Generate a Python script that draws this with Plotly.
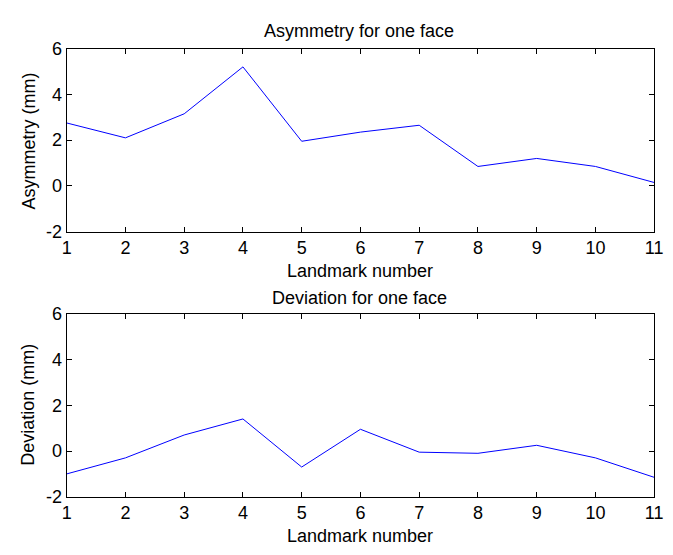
import plotly.graph_objects as go

landmarks = list(range(1, 12))
asymmetry = [2.75, 2.1, 3.15, 5.2, 1.95, 2.35, 2.65, 0.85, 1.2, 0.85, 0.15]
deviation = [-1.0, -0.3, 0.7, 1.4, -0.7, 0.95, -0.05, -0.1, 0.25, -0.3, -1.15]
y_ticks = [-2, 0, 2, 4, 6]
y_tick_labels = ["-2", "0", "2", "4", "6"]
x_ticks = landmarks

W, H = 673, 555
FONT = dict(family="Liberation Sans, Arial, sans-serif", size=18, color="black")

fig = go.Figure()
fig.add_trace(go.Scatter(x=landmarks, y=asymmetry, mode="lines",
                         line=dict(color="#0000ff", width=1), xaxis="x", yaxis="y"))
fig.add_trace(go.Scatter(x=landmarks, y=deviation, mode="lines",
                         line=dict(color="#0000ff", width=1), xaxis="x2", yaxis="y2"))

x0, x1 = 63 / W, 663 / W
top_dom = [1 - 230 / H, 1 - 40 / H]
bot_dom = [1 - 505 / H, 1 - 315 / H]

axis_common = dict(showline=True, linecolor="black", linewidth=1, mirror="ticks",
                   ticks="inside", ticklen=5, tickcolor="black", tickwidth=1,
                   showgrid=False, zeroline=False, tickfont=FONT)

fig.update_layout(
    width=W, height=H, margin=dict(l=0, r=0, t=0, b=0),
    paper_bgcolor="white", plot_bgcolor="white", showlegend=False,
    font=FONT,
    xaxis=dict(domain=[x0, x1], range=[1, 11], tickvals=x_ticks, anchor="y", **axis_common),
    yaxis=dict(domain=top_dom, range=[-2, 6], tickvals=y_ticks, ticktext=y_tick_labels,
               anchor="x", **axis_common),
    xaxis2=dict(domain=[x0, x1], range=[1, 11], tickvals=x_ticks, anchor="y2", **axis_common),
    yaxis2=dict(domain=bot_dom, range=[-2, 6], tickvals=y_ticks, ticktext=y_tick_labels,
                anchor="x2", **axis_common),
)

def ann(text, px, py, angle=0):
    fig.add_annotation(text=text, x=px / W, y=1 - py / H, xref="paper", yref="paper",
                       showarrow=False, textangle=angle, font=FONT,
                       xanchor="center", yanchor="middle")

ann("Asymmetry for one face", 362, 22)
ann("Landmark number", 363, 271)
ann("Asymmetry (mm)", 25, 136, -90)
ann("Deviation for one face", 362, 299)
ann("Landmark number", 363, 546)
ann("Deviation (mm)", 24, 410, -90)

fig.write_html("out.html")
